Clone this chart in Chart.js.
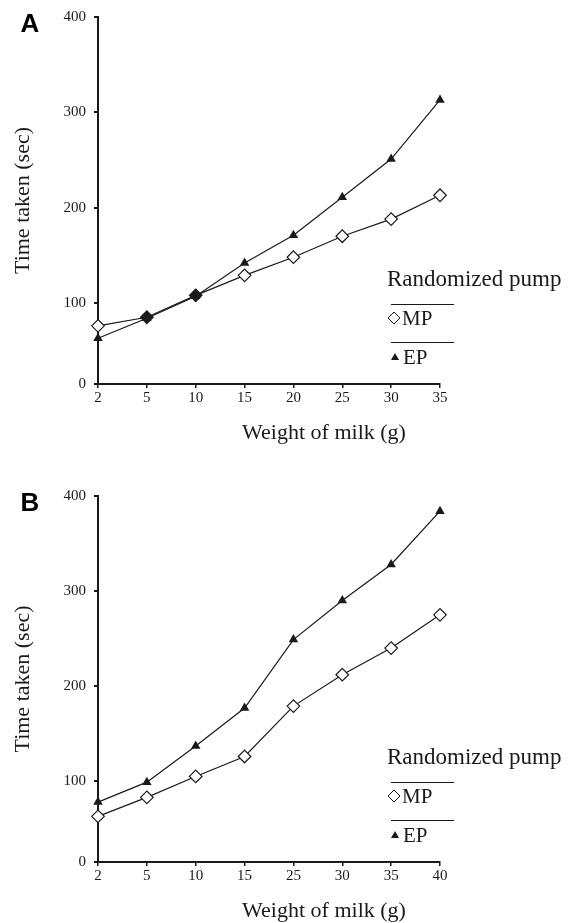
<!DOCTYPE html>
<html>
<head>
<meta charset="utf-8">
<script src="https://cdn.jsdelivr.net/npm/chart.js@4.4.0/dist/chart.umd.min.js"></script>
<style>
  html, body { margin: 0; padding: 0; background: #fff; }
  .panel { position: absolute; left: 0; width: 575px; }
</style>
</head>
<body>
<div class="panel" style="top:0;height:461px"><canvas id="chartA" width="575" height="461"></canvas></div>
<div class="panel" style="top:461px;height:462px"><canvas id="chartB" width="575" height="462"></canvas></div>
<script>
// panel A
const weightsA = ['2', '5', '10', '15', '20', '25', '30', '35']
const mpA = [76, 85, 108, 129, 148, 170, 188, 213]
const epA = [63, 84, 107, 142, 171, 211, 251, 313]

// panel B
const weightsB = ['2', '5', '10', '15', '25', '30', '35', '40']
const mpB = [63, 83, 105, 126, 179, 212, 240, 275]
const epB = [78, 99, 137, 177, 249, 290, 328, 384]

const yTicks = [0, 100, 200, 300, 400]
const seriesNames = ['MP', 'EP']
const legendTitle = 'Randomized pump'
const xTitle = 'Weight of milk (g)'
const yTitle = 'Time taken (sec)'

// the source axis is cut short: its "0" label sits at the foot of the axis
const yFloor = 15
const ink = '#1a1a1a'
const serif = '"Liberation Serif", "DejaVu Serif", serif'

const pumpLegend = {
  id: 'pumpLegend',
  afterDraw(chart) {
    const ctx = chart.ctx
    const b = chart.chartArea.bottom
    ctx.save()
    ctx.fillStyle = ink
    ctx.strokeStyle = ink
    ctx.textBaseline = 'middle'

    // x axis title, set right of the plot centre as in the source
    ctx.textAlign = 'center'
    ctx.font = '22px ' + serif
    ctx.fillText(xTitle, 324, b + 49)

    ctx.textAlign = 'left'
    ctx.font = '23px ' + serif
    ctx.fillText(legendTitle, 387, b - 104)

    ctx.lineWidth = 1
    for (const dy of [-80, -42]) {
      ctx.beginPath()
      ctx.moveTo(391, b + dy + 0.5)
      ctx.lineTo(454, b + dy + 0.5)
      ctx.stroke()
    }

    // open diamond
    const dy1 = b - 66
    ctx.beginPath()
    ctx.moveTo(388, dy1)
    ctx.lineTo(394, dy1 - 6)
    ctx.lineTo(400, dy1)
    ctx.lineTo(394, dy1 + 6)
    ctx.closePath()
    ctx.fillStyle = '#fff'
    ctx.fill()
    ctx.stroke()

    // filled triangle
    const dy2 = b - 27
    ctx.beginPath()
    ctx.moveTo(395, dy2 - 4)
    ctx.lineTo(399, dy2 + 3)
    ctx.lineTo(391, dy2 + 3)
    ctx.closePath()
    ctx.fillStyle = ink
    ctx.fill()

    ctx.font = '21px ' + serif
    ctx.fillText(seriesNames[0], 402, dy1 + 1)
    ctx.fillText(seriesNames[1], 403, dy2 + 1)
    ctx.restore()
  }
}

function panelLetter(letter) {
  return {
    id: 'panelLetter' + letter,
    afterDraw(chart) {
      const ctx = chart.ctx
      ctx.save()
      ctx.fillStyle = '#000'
      ctx.font = 'bold 26px "Liberation Sans", Arial, sans-serif'
      ctx.textAlign = 'center'
      ctx.textBaseline = 'middle'
      ctx.fillText(letter, 30, chart.chartArea.top + 8)
      ctx.restore()
    }
  }
}

function makeChart(id, letter, labels, mp, ep, mpFill, top, xHeight) {
  return new Chart(document.getElementById(id), {
    type: 'line',
    data: {
      labels: labels,
      datasets: [{
        label: seriesNames[0],
        data: mp,
        borderColor: ink,
        borderWidth: 1.2,
        pointStyle: 'rectRot',
        pointRadius: 6.3,
        pointBorderWidth: 1.2,
        pointBorderColor: ink,
        pointBackgroundColor: mpFill,
        clip: false,
        order: 2
      }, {
        label: seriesNames[1],
        data: ep,
        borderColor: ink,
        borderWidth: 1.2,
        pointStyle: 'triangle',
        pointRadius: 5.5,
        pointBorderWidth: 0,
        pointBackgroundColor: ink,
        clip: false,
        order: 1
      }]
    },
    options: {
      responsive: false,
      animation: false,
      events: [],
      layout: { padding: { top: top, right: 135, left: 0, bottom: 0 } },
      plugins: {
        legend: { display: false },
        tooltip: { enabled: false }
      },
      scales: {
        x: {
          offset: false,
          afterFit: scale => { scale.height = xHeight },
          border: { color: ink, width: 2 },
          grid: { drawOnChartArea: false, drawTicks: true, tickLength: 4, color: ink, lineWidth: 1.5 },
          ticks: { color: ink, padding: 1, maxRotation: 0, font: { family: serif, size: 15 } },
          title: { display: false }
        },
        y: {
          min: yFloor,
          max: 400,
          afterFit: scale => { scale.width = 98 },
          afterBuildTicks: scale => {
            scale.ticks = yTicks.map(v => ({ value: Math.max(v, yFloor) }))
          },
          border: { color: ink, width: 2 },
          grid: { drawOnChartArea: false, drawTicks: true, tickLength: 4, color: ink, lineWidth: 2 },
          ticks: {
            color: ink,
            padding: 8,
            font: { family: serif, size: 15 },
            callback: (v, i) => String(yTicks[i])
          },
          title: {
            display: true,
            text: yTitle,
            color: ink,
            padding: { top: 12, bottom: 0 },
            font: { family: serif, size: 22, lineHeight: 1 }
          }
        }
      }
    },
    plugins: [pumpLegend, panelLetter(letter)]
  })
}

// diamonds at 5 g and 10 g print solid where the two series overlap
const mpFillA = ['#fff', ink, ink, '#fff', '#fff', '#fff', '#fff', '#fff']
const mpFillB = '#fff'

makeChart('chartA', 'A', weightsA, mpA, epA, mpFillA, 17, 77)
makeChart('chartB', 'B', weightsB, mpB, epB, mpFillB, 35, 61)
</script>
</body>
</html>
